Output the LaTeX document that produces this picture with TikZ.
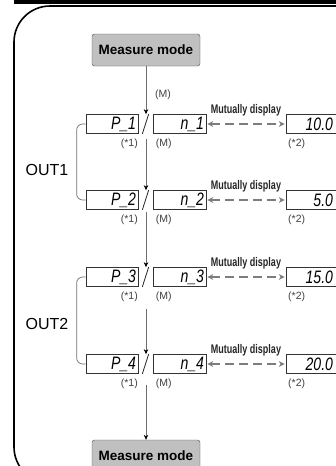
\documentclass[tikz,border=0pt]{standalone}
\usepackage{fontspec}
\setmainfont{Liberation Sans}
\usepackage{graphicx}
\usepackage{xcolor}
\usetikzlibrary{arrows.meta,positioning,calc}
\definecolor{linegray}{RGB}{110,110,110}
\definecolor{boxgray}{RGB}{192,192,192}
\definecolor{dashgray}{RGB}{125,125,125}
\newcommand{\seg}[1]{\scalebox{0.78}[1]{\fontsize{18}{18}\selectfont\itshape #1}}
\newcommand{\mutual}{\scalebox{0.72}[1]{Mutually display}}
\tikzset{
  modebox/.style={draw=black!70,rounded corners=2.5pt,fill=boxgray,minimum width=108pt,minimum height=32pt,inner sep=0pt,font=\fontsize{13.5}{14}\selectfont\bfseries},
  dispbox/.style={draw=black!80,line width=0.7pt,text width=#1,align=right,minimum height=19pt,inner xsep=2pt,inner ysep=0pt},
  valbox/.style={dispbox=40pt,inner xsep=7pt},
  lbl/.style={font=\fontsize{10.5}{11}\selectfont,text=black!75,inner sep=0pt},
  outlbl/.style={font=\fontsize{16}{17}\selectfont,inner sep=0pt},
  mutlbl/.style={font=\fontsize{12.5}{13}\selectfont\bfseries,text=black!85},
}
\begin{document}
\begin{tikzpicture}[x=1pt,y=-1pt,
    arr/.style={draw=linegray,line width=0.6pt,-{Stealth[length=5pt,width=4.5pt,color=black]}},
    mutarr/.style={draw=dashgray,line width=1.6pt,dash pattern=on 9pt off 5pt,shorten <=1pt,shorten >=1pt,{Stealth[length=6pt,width=6pt]}-{Stealth[length=6pt,width=6pt]}},
    bracket/.style={draw=linegray,line width=0.7pt,rounded corners=6pt},
    slash/.style={draw=black!85,line width=0.8pt},
  ]
  \useasboundingbox (0,0) rectangle (335,466);
  % outer frame
  \fill[black] (14,0) rectangle (340,4);
  \draw[line width=1.6pt,rounded corners=36pt] (345,6) -- (14,6) -- (14,483) -- (345,483);

  \node[modebox] (mtop) at (146,50) {Measure mode};
  \node[lbl] (mtopl) at ($(mtop.south)+(17,29)$) {(M)};

  % OUT1
  \node[dispbox=48pt] (p1) at (112,124) {\seg{P\_1}};
  \node[dispbox=49pt] (n1) at (179.5,124) {\seg{n\_1}};
  \node[valbox] (v1) at (313,124) {\seg{10.0}};
  \draw[slash] ($(p1.south east)+(4,0)$) -- ($(n1.north west)+(-4,0)$);
  \draw[mutarr] (n1.east) -- node[mutlbl,above=4pt]{\mutual} (v1.west);
  \node[lbl] (p1l) at ($(p1.south east)+(-9,9.5)$) {(*1)};
  \node[lbl] (n1l) at ($(n1.south west)+(11,9.5)$) {(M)};
  \node[lbl] (v1l) at ($(v1.south west)+(11,9.5)$) {(*2)};

  \node[dispbox=48pt] (p2) at (112,200) {\seg{P\_2}};
  \node[dispbox=49pt] (n2) at (179.5,200) {\seg{n\_2}};
  \node[valbox] (v2) at (313,200) {\seg{5.0}};
  \draw[slash] ($(p2.south east)+(4,0)$) -- ($(n2.north west)+(-4,0)$);
  \draw[mutarr] (n2.east) -- node[mutlbl,above=4pt]{\mutual} (v2.west);
  \node[lbl] (p2l) at ($(p2.south east)+(-9,9.5)$) {(*1)};
  \node[lbl] (n2l) at ($(n2.south west)+(11,9.5)$) {(M)};
  \node[lbl] (v2l) at ($(v2.south west)+(11,9.5)$) {(*2)};

  % OUT2
  \node[dispbox=48pt] (p3) at (112,277) {\seg{P\_3}};
  \node[dispbox=49pt] (n3) at (179.5,277) {\seg{n\_3}};
  \node[valbox] (v3) at (313,277) {\seg{15.0}};
  \draw[slash] ($(p3.south east)+(4,0)$) -- ($(n3.north west)+(-4,0)$);
  \draw[mutarr] (n3.east) -- node[mutlbl,above=4pt]{\mutual} (v3.west);
  \node[lbl] (p3l) at ($(p3.south east)+(-9,10)$) {(*1)};
  \node[lbl] (n3l) at ($(n3.south west)+(11,10)$) {(M)};
  \node[lbl] (v3l) at ($(v3.south west)+(11,10)$) {(*2)};

  \node[dispbox=48pt] (p4) at (112,364) {\seg{P\_4}};
  \node[dispbox=49pt] (n4) at (179.5,364) {\seg{n\_4}};
  \node[valbox] (v4) at (313,364) {\seg{20.0}};
  \draw[slash] ($(p4.south east)+(4,0)$) -- ($(n4.north west)+(-4,0)$);
  \draw[mutarr] (n4.east) -- node[mutlbl,above=4pt]{\mutual} (v4.west);
  \node[lbl] (p4l) at ($(p4.south east)+(-9,10)$) {(*1)};
  \node[lbl] (n4l) at ($(n4.south west)+(11,10)$) {(M)};
  \node[lbl] (v4l) at ($(v4.south west)+(11,10)$) {(*2)};

  \node[modebox] (mbot) at (146,456) {Measure mode};

  % brackets
  \draw[bracket] (p1.west) -- ++(-9,0) |- (p2.west);
  \draw[bracket] (p3.west) -- ++(-9,0) |- (p4.west);
  \node[outlbl] (out1) at (47,170) {OUT1};
  \node[outlbl] (out2) at (47,324) {OUT2};

  % flow arrows
  \draw[arr] (mtop.south) -- (mtop.south |- p1.north);
  \coordinate (g1) at ($(mtop.south |- p1.south)+(0,5)$);
  \draw[arr] (g1) -- (g1 |- p2.north);
  \coordinate (g2) at ($(mtop.south |- p2.south)+(0,2)$);
  \draw[arr] (g2) -- (g2 |- p3.north);
  \coordinate (g3) at ($(mtop.south |- p3.south)+(0,22)$);
  \draw[arr] (g3) -- (g3 |- p4.north);
  \coordinate (g4) at ($(mtop.south |- p4.south)+(0,11)$);
  \draw[arr] (g4) -- (mbot.north);
\end{tikzpicture}
\end{document}
